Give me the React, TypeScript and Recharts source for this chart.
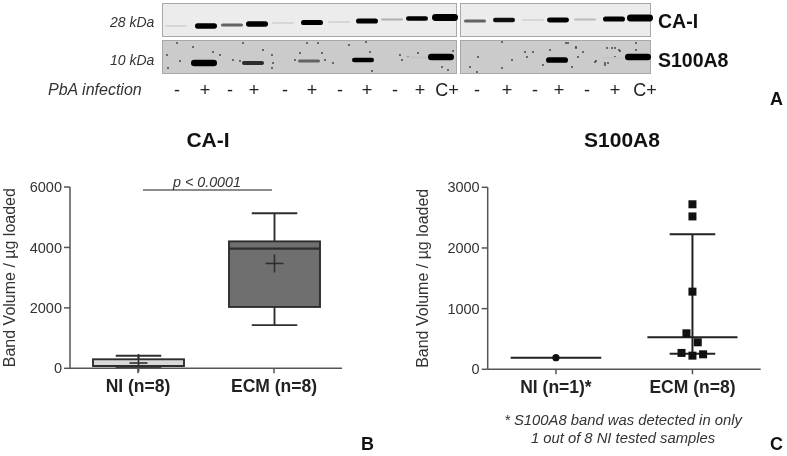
import React from 'react';
import {
  Bar,
  ComposedChart,
  ReferenceLine,
  Scatter,
  ScatterChart,
  XAxis,
  YAxis
} from 'recharts';

// Panel A: western blot lanes, x and y in gel coordinates
const laneLabels = ['-', '+', '-', '+', '-', '+', '-', '+', '-', '+', 'C+', '-', '+', '-', '+', '-', '+', 'C+'];
const laneLabelX = [177, 205, 230, 254, 285, 312, 340, 367, 395, 420, 447, 477, 507, 535, 559, 587, 615, 645];
const caX = [176, 206, 232, 257, 283, 312, 339, 367, 392, 417, 445, 475, 504, 533, 558, 585, 614, 640];
const caY = [26, 26, 25, 24, 23, 22.5, 22, 21, 19.5, 18.5, 17.5, 21, 20, 20, 20, 19.5, 19, 18];
const caSignal = [0.06, 1, 0.45, 1, 0.06, 0.95, 0.06, 0.95, 0.18, 0.8, 1.4, 0.45, 0.75, 0.06, 0.9, 0.14, 0.95, 1.4];
const s100X = [204, 253, 309, 363, 417, 441, 557, 613, 638];
const s100Y = [63, 63, 61, 60, 57.5, 57, 60, 58, 57];
const s100Signal = [1.3, 0.65, 0.45, 0.8, 0.1, 1.25, 1.1, 0.1, 1.2];
const speckleX = [177, 167, 180, 213, 220, 193, 233, 240, 273, 272, 295, 307, 318, 322, 300, 272, 263, 243, 168, 366, 370, 372, 349, 400, 402, 408, 418, 453, 442, 448, 333, 325, 478, 470, 477, 502, 502, 512, 525, 533, 527, 543, 550, 568, 576, 578, 596, 607, 615, 620, 605, 576, 583, 595, 572, 612, 619, 615, 605, 608, 636, 636, 566];
const speckleY = [43, 55, 61, 52, 55, 47, 60, 61, 63, 68, 60, 43, 43, 53, 53, 55, 50, 43, 68, 42, 52, 71, 45, 55, 60, 57, 53, 51, 67, 70, 63, 60, 57, 67, 72, 42, 68, 60, 52, 52, 57, 65, 50, 43, 47, 57, 61, 48, 48, 51, 65, 48, 52, 62, 67, 48, 50, 57, 63, 63, 43, 50, 43];

// Panel B: CA-I box plot
const caGroups = ['NI (n=8)', 'ECM (n=8)'];
const caLow = [20, 1430];
const caQ1 = [76, 2030];
const caMedian = [76, 3960];
const caQ3 = [298, 4200];
const caHigh = [417, 5130];
const caMean = [175, 3470];
const caTicks = [0, 2000, 4000, 6000];
const boxFills = ['#d9d9d9', '#6f6f6f'];
const sigLevel = 5900;

// Panel C: S100A8 scatter
const s100Groups = ['NI (n=1)*', 'ECM (n=8)'];
const s100Ticks = [0, 1000, 2000, 3000];
const niPointsX = [0.5];
const niPointsY = [192];
const ecmPointsX = [1.5, 1.5, 1.5, 1.456, 1.539, 1.42, 1.5, 1.578];
const ecmPointsY = [2720, 2520, 1280, 593, 445, 270, 225, 247];
const ecmMedian = 527;
const ecmUpper = 2225;
const ecmLower = 258;

const FONT = '"Liberation Sans", Arial, sans-serif';
const INK = '#333333';
const AXIS = '#555555';
const LINE = '#222222';

const caBands = caX.map((x, i) => ({ x, y: caY[i], signal: caSignal[i], lane: i }));
const s100Bands = s100X.map((x, i) => ({ x, y: s100Y[i], signal: s100Signal[i], lane: i }));
const speckles = speckleX.map((x, i) => ({ x, y: speckleY[i] }));
const laneRows = laneLabels.map((label, i) => ({ x: laneLabelX[i], y: 90, label }));

const boxRows = caGroups.map((name, i) => ({
  name,
  range: [caQ1[i], caQ3[i]],
  low: caLow[i],
  q1: caQ1[i],
  median: caMedian[i],
  q3: caQ3[i],
  high: caHigh[i],
  mean: caMean[i],
  fill: boxFills[i]
}));

const niRows = niPointsX.map((x, i) => ({ x, y: niPointsY[i] }));
const ecmRows = ecmPointsX.map((x, i) => ({ x, y: ecmPointsY[i] }));

const BandShape = (props: any) => {
  const { cx, cy, payload } = props;
  const { signal } = payload;
  const thick = signal >= 1.2 ? 3.5 + signal * 2.4 : 1.5 + signal * 3.8;
  const width = signal >= 1.2 ? 26 : 22;
  const level = Math.max(0, Math.round(225 - Math.min(signal, 1) * 280));
  return (
    <rect
      x={cx - width / 2}
      y={cy - thick / 2}
      width={width}
      height={thick}
      rx={thick / 2}
      fill={`rgb(${level},${level},${level})`}
    />
  );
};

const SpeckleShape = (props: any) => (
  <circle cx={props.cx} cy={props.cy} r={0.9} fill="#3a3a3a" />
);

const LaneLabel = (props: any) => (
  <text
    x={props.cx}
    y={props.cy}
    textAnchor="middle"
    dominantBaseline="central"
    fontFamily={FONT}
    fontSize={18}
    fill="#222"
  >
    {props.payload.label}
  </text>
);

const BoxShape = (props: any) => {
  const { x, y, width, height, payload } = props;
  const { q1, q3, low, high, median, mean, fill } = payload;
  const unit = height / (q3 - q1);
  const toY = (v: number) => y + height - (v - q1) * unit;
  const cx = x + width / 2;
  const cap = width / 4;
  return (
    <g stroke="#2e2e2e" strokeWidth={1.9} fill="none">
      <line x1={cx} x2={cx} y1={toY(high)} y2={toY(low)} />
      <line x1={cx - cap} x2={cx + cap} y1={toY(high)} y2={toY(high)} />
      <line x1={cx - cap} x2={cx + cap} y1={toY(low)} y2={toY(low)} />
      <rect x={x} y={y} width={width} height={height} fill={fill} />
      <line x1={x} x2={x + width} y1={toY(median)} y2={toY(median)} strokeWidth={2.2} />
      <line x1={cx - 9} x2={cx + 9} y1={toY(mean)} y2={toY(mean)} strokeWidth={1.6} />
      <line x1={cx} x2={cx} y1={toY(mean) - 9} y2={toY(mean) + 9} strokeWidth={1.6} />
    </g>
  );
};

// significance bar, a little inset from the two group centres
const SigLine = (props: any) => {
  const { x1, x2, y1 } = props;
  return (
    <g>
      <line x1={x1 + 5} x2={x2 - 2} y1={y1} y2={y1} stroke="#666" strokeWidth={1.3} />
      <text
        x={(x1 + x2) / 2 + 1}
        y={y1 - 8}
        textAnchor="middle"
        dominantBaseline="central"
        fontFamily={FONT}
        fontSize={14.3}
        fontStyle="italic"
        fill={INK}
      >
        p &lt; 0.0001
      </text>
    </g>
  );
};

const CircleDot = (props: any) => <circle cx={props.cx} cy={props.cy} r={3.6} fill="#111" />;
const SquareDot = (props: any) => (
  <rect x={props.cx - 4} y={props.cy - 4} width={8} height={8} fill="#111" />
);

const abs = (left: number, top: number, extra: React.CSSProperties = {}): React.CSSProperties => ({
  position: 'absolute',
  left,
  top,
  fontFamily: FONT,
  color: INK,
  whiteSpace: 'nowrap',
  ...extra
});

const gel = (left: number, top: number, width: number, height: number, background: string) => (
  <div
    style={{
      position: 'absolute',
      left,
      top,
      width,
      height,
      background,
      border: '1.5px solid #a8a8a8',
      boxSizing: 'border-box'
    }}
  />
);

const tickStyle = { fontFamily: FONT, fontSize: 14.5, fill: INK };
const categoryStyle = { fontFamily: FONT, fontSize: 17.5, fontWeight: 700, fill: '#222' };
const axisLine = { stroke: AXIS, strokeWidth: 1.5 };
const tickLine = { stroke: AXIS, strokeWidth: 1.5 };
const yLabelStyle = { fontFamily: FONT, fontSize: 16, fill: INK, textAnchor: 'middle' as const };

export default function App() {
  return (
    <div
      style={{
        position: 'fixed',
        left: 0,
        top: 0,
        width: 787,
        height: 456,
        background: '#fff',
        overflow: 'hidden',
        filter: 'blur(0.5px)'
      }}
    >
      {/* Panel A */}
      {gel(162, 3, 295, 34, '#ececec')}
      {gel(460, 3, 191, 34, '#ececec')}
      {gel(162, 40, 295, 34, '#cbcbcb')}
      {gel(460, 40, 191, 34, '#cbcbcb')}
      <div style={{ position: 'absolute', left: 0, top: 0 }}>
        <ScatterChart width={787} height={110} margin={{ top: 0, right: 0, bottom: 0, left: 0 }}>
          <XAxis type="number" dataKey="x" domain={[0, 787]} hide />
          <YAxis type="number" dataKey="y" domain={[0, 110]} reversed hide />
          <Scatter data={speckles} shape={SpeckleShape} isAnimationActive={false} />
          <Scatter data={caBands} shape={BandShape} isAnimationActive={false} />
          <Scatter data={s100Bands} shape={BandShape} isAnimationActive={false} />
          <Scatter data={laneRows} shape={LaneLabel} isAnimationActive={false} />
        </ScatterChart>
      </div>
      <div style={abs(110, 14, { fontSize: 14, fontStyle: 'italic', lineHeight: '16px' })}>28 kDa</div>
      <div style={abs(110, 52, { fontSize: 14, fontStyle: 'italic', lineHeight: '16px' })}>10 kDa</div>
      <div style={abs(48, 81, { fontSize: 16, fontStyle: 'italic', lineHeight: '18px' })}>PbA infection</div>
      <div style={abs(658, 11, { fontSize: 19.5, fontWeight: 700, lineHeight: '20px', color: '#111' })}>CA-I</div>
      <div style={abs(658, 50, { fontSize: 19.5, fontWeight: 700, lineHeight: '20px', color: '#111' })}>S100A8</div>
      <div style={abs(770, 90, { fontSize: 18, fontWeight: 700, lineHeight: '18px', color: '#111' })}>A</div>

      {/* Panel B */}
      <div style={abs(108, 128, { width: 200, textAlign: 'center', fontSize: 21, fontWeight: 700, lineHeight: '24px', color: '#111' })}>
        CA-I
      </div>
      <div style={{ position: 'absolute', left: 0, top: 130 }}>
        <ComposedChart
          width={360}
          height={300}
          data={boxRows}
          margin={{ top: 57, right: 18, bottom: 31.7, left: 0 }}
        >
          <XAxis
            dataKey="name"
            interval={0}
            axisLine={axisLine}
            tickLine={tickLine}
            tickSize={5}
            tickMargin={6}
            tick={categoryStyle}
          />
          <YAxis
            width={70}
            domain={[0, 6000]}
            ticks={caTicks}
            interval={0}
            axisLine={axisLine}
            tickLine={tickLine}
            tickSize={6}
            tick={tickStyle}
            label={{
              value: 'Band Volume / µg loaded',
              angle: -90,
              position: 'insideLeft',
              offset: 9,
              style: yLabelStyle
            }}
          />
          <Bar dataKey="range" barSize={91} shape={BoxShape} isAnimationActive={false} />
          <ReferenceLine
            segment={[{ x: caGroups[0], y: sigLevel }, { x: caGroups[1], y: sigLevel }]}
            shape={SigLine}
            ifOverflow="visible"
          />
        </ComposedChart>
      </div>
      <div style={abs(361, 435, { fontSize: 18, fontWeight: 700, lineHeight: '18px', color: '#111' })}>B</div>

      {/* Panel C */}
      <div style={abs(522, 128, { width: 200, textAlign: 'center', fontSize: 21, fontWeight: 700, lineHeight: '24px', color: '#111' })}>
        S100A8
      </div>
      <div style={{ position: 'absolute', left: 400, top: 130 }}>
        <ScatterChart
          width={387}
          height={300}
          margin={{ top: 57.3, right: 26.3, bottom: 30.7, left: 17.7 }}
        >
          <XAxis
            type="number"
            dataKey="x"
            domain={[0, 2]}
            ticks={[0.5, 1.5]}
            interval={0}
            tickFormatter={(v: number) => s100Groups[Math.floor(v)]}
            axisLine={axisLine}
            tickLine={tickLine}
            tickSize={5}
            tickMargin={6}
            tick={categoryStyle}
          />
          <YAxis
            type="number"
            dataKey="y"
            width={70}
            domain={[0, 3000]}
            ticks={s100Ticks}
            interval={0}
            axisLine={axisLine}
            tickLine={tickLine}
            tickSize={6}
            tick={tickStyle}
            label={{
              value: 'Band Volume / µg loaded',
              angle: -90,
              position: 'insideLeft',
              offset: 5,
              style: yLabelStyle
            }}
          />
          <ReferenceLine segment={[{ x: 1.5, y: ecmLower }, { x: 1.5, y: ecmUpper }]} stroke={LINE} strokeWidth={2} />
          <ReferenceLine segment={[{ x: 1.333, y: ecmUpper }, { x: 1.667, y: ecmUpper }]} stroke={LINE} strokeWidth={2} />
          <ReferenceLine segment={[{ x: 1.333, y: ecmLower }, { x: 1.667, y: ecmLower }]} stroke={LINE} strokeWidth={2} />
          <ReferenceLine segment={[{ x: 1.17, y: ecmMedian }, { x: 1.83, y: ecmMedian }]} stroke={LINE} strokeWidth={2} />
          <ReferenceLine segment={[{ x: 0.168, y: niPointsY[0] }, { x: 0.832, y: niPointsY[0] }]} stroke={LINE} strokeWidth={2} />
          <Scatter data={niRows} shape={CircleDot} isAnimationActive={false} />
          <Scatter data={ecmRows} shape={SquareDot} isAnimationActive={false} />
        </ScatterChart>
      </div>
      <div style={abs(473, 411, { width: 300, textAlign: 'center', fontSize: 14.8, fontStyle: 'italic', lineHeight: '18px' })}>
        * S100A8 band was detected in only
        <br />
        1 out of 8 NI tested samples
      </div>
      <div style={abs(770, 435, { fontSize: 18, fontWeight: 700, lineHeight: '18px', color: '#111' })}>C</div>
    </div>
  );
}
